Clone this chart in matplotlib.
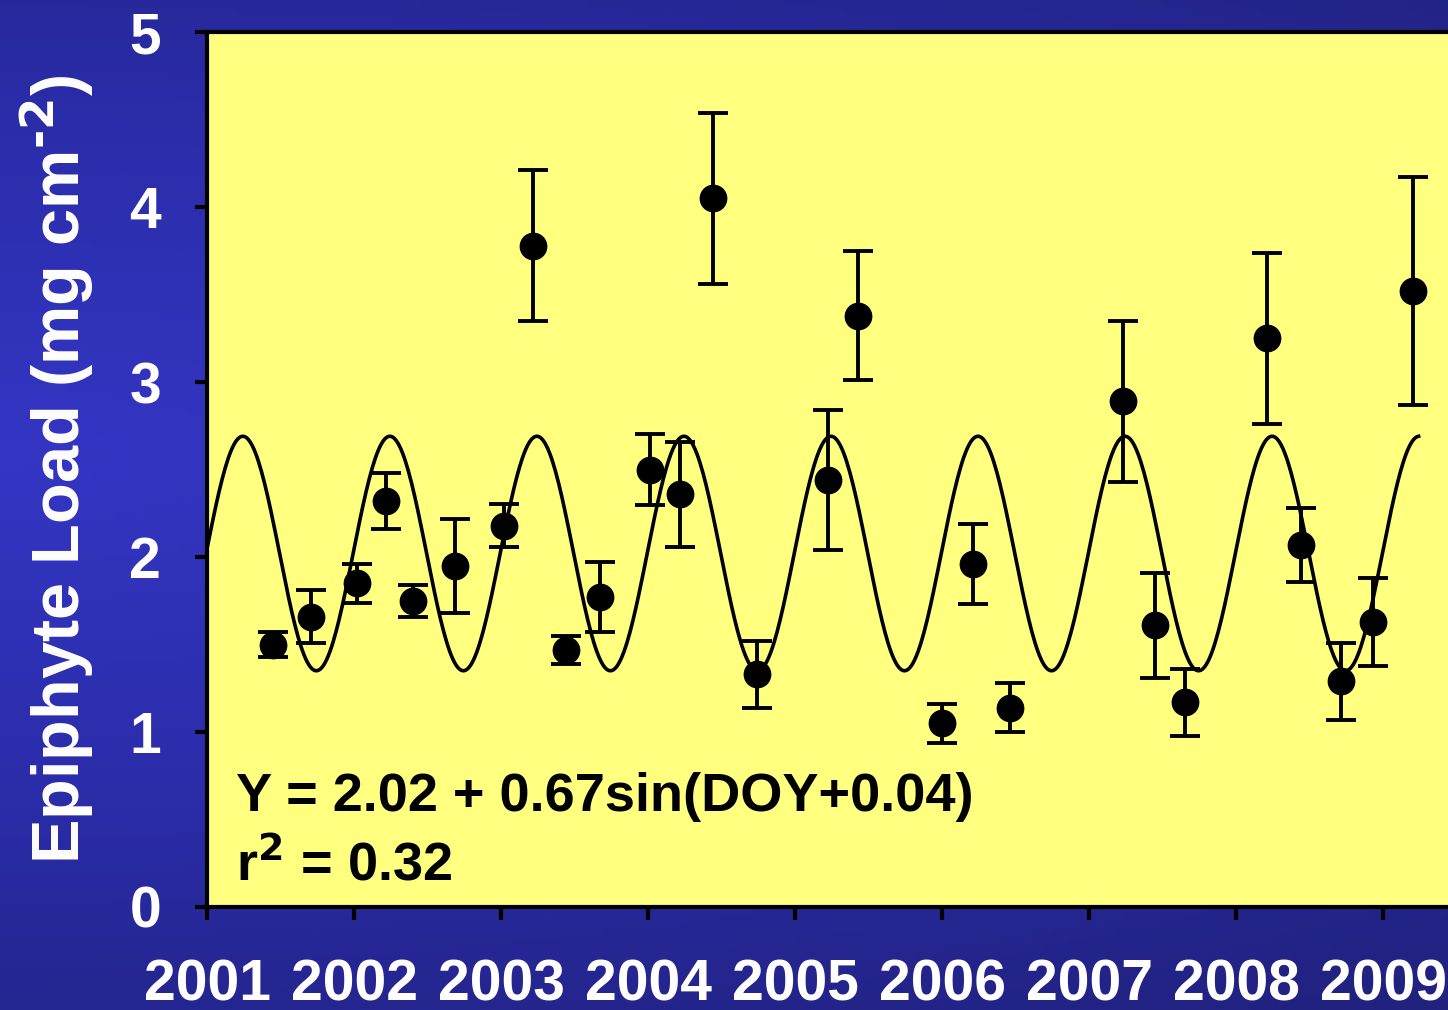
import numpy as np
import matplotlib.pyplot as plt
from matplotlib.colors import LinearSegmentedColormap

# sample dates (decimal year) and epiphyte load with error bars
year = [2001.45, 2001.71, 2002.02, 2002.22, 2002.40, 2002.69, 2003.02, 2003.22, 2003.44,
        2003.67, 2004.01, 2004.22, 2004.44, 2004.74, 2005.22, 2005.43, 2006.00, 2006.21,
        2006.46, 2007.23, 2007.45, 2007.65, 2008.21, 2008.44, 2008.71, 2008.93, 2009.20]
load = [1.50, 1.66, 1.85, 2.32, 1.75, 1.95, 2.18, 3.78, 1.47,
        1.77, 2.50, 2.36, 4.05, 1.33, 2.44, 3.38, 1.05, 1.96,
        1.14, 2.89, 1.61, 1.17, 3.25, 2.07, 1.29, 1.63, 3.52]
err = [0.07, 0.15, 0.11, 0.16, 0.09, 0.27, 0.12, 0.43, 0.08,
       0.20, 0.20, 0.30, 0.49, 0.19, 0.40, 0.37, 0.11, 0.23,
       0.14, 0.46, 0.30, 0.19, 0.49, 0.21, 0.22, 0.25, 0.65]

# fitted model  Y = 2.02 + 0.67 sin(DOY + 0.04)
b0, amp, phase = 2.02, 0.67, 0.04
t = np.linspace(2001, 2009.24, 800)
fit = b0 + amp * np.sin(2 * np.pi * (t - 2001) + phase)

plt.rcParams['font.family'] = ['Liberation Sans', 'DejaVu Sans']
plt.rcParams['font.weight'] = 'bold'
plt.rcParams['mathtext.default'] = 'bf'

fig = plt.figure(figsize=(14.48, 10.10), dpi=100)

# blue gradient background
bg = fig.add_axes([0, 0, 1, 1], zorder=-1)
yy, xx = np.mgrid[0:1:200j, 0:1:300j]
d = np.sqrt(((xx - 0.0) / 1.6) ** 2 + ((yy - 0.45) / 0.7) ** 2)
cmap = LinearSegmentedColormap.from_list('bg', ['#3436c4', '#2a2ca8', '#21217e'])
bg.imshow(d, cmap=cmap, aspect='auto', extent=[0, 1, 0, 1], vmin=0, vmax=1)
bg.axis('off')

ax = fig.add_axes([207 / 1448, 103 / 1010, 1 - 207 / 1448, 875 / 1010])
ax.set_facecolor('#ffff80')
ax.plot(t, fit, color='black', lw=2.6, zorder=2)
ax.errorbar(year, load, yerr=err, fmt='o', color='black', ms=19, elinewidth=2.8,
            capsize=11, capthick=2.8, zorder=3)

ax.set_xlim(2001, 2009.44)
ax.set_ylim(0, 5)
ax.set_xticks(range(2001, 2010))
ax.set_yticks(range(0, 6))
ax.tick_params(direction='out', length=9, width=3, color='black', labelcolor='white',
               labelsize=41)
ax.tick_params(axis='x', pad=28)
ax.tick_params(axis='y', pad=24)
for lab in ax.get_xticklabels() + ax.get_yticklabels():
    lab.set_fontweight('bold')
for s in ['left', 'bottom', 'top']:
    ax.spines[s].set_linewidth(3)
ax.spines['right'].set_visible(False)

ax.set_ylabel('Epiphyte Load (mg cm$^{\\text{-2}}$)', color='white', fontsize=48,
              fontweight='bold', labelpad=24)

ax.text(2001.2, 0.55, 'Y = 2.02 + 0.67sin(DOY+0.04)', fontsize=39, fontweight='bold',
        color='black')
ax.text(2001.2, 0.15, 'r$^{\\text{2}}$ = 0.32', fontsize=39, fontweight='bold',
        color='black')

fig.savefig('out.png', dpi=100)
